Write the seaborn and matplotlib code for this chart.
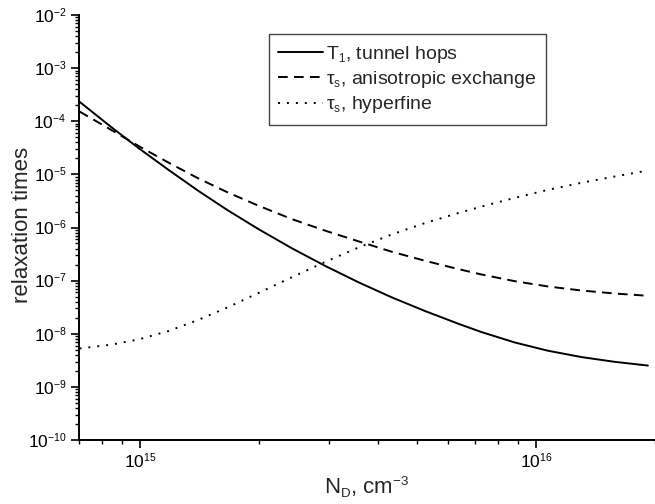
import numpy as np
import pandas as pd
import matplotlib
matplotlib.use("Agg")
import matplotlib.pyplot as plt
import matplotlib.ticker as mticker
import seaborn as sns

try:
    import matplotlib._mathtext as _mt
    _mt.SHRINK_FACTOR = 0.6
except Exception:
    pass

# ---- data ----
nd = [7.02e14, 8.47e14, 9.88e14, 1.177e15, 1.40e15, 1.667e15, 1.995e15, 2.42e15,
      2.94e15, 3.566e15, 4.325e15, 5.25e15, 6.37e15, 7.29e15, 8.85e15, 1.074e16,
      1.303e16, 1.582e16, 1.919e16]
t1_tunnel = [2.33e-4, 7.63e-5, 3.16e-5, 1.225e-5, 4.93e-6, 2.09e-6, 9.21e-7, 4.04e-7,
             1.876e-7, 9.26e-8, 4.83e-8, 2.67e-8, 1.54e-8, 1.074e-8, 6.84e-9, 4.78e-9,
             3.64e-9, 2.96e-9, 2.52e-9]
ts_aniso = [1.526e-4, 6.78e-5, 3.45e-5, 1.673e-5, 8.44e-6, 4.54e-6, 2.55e-6, 1.433e-6,
            8.67e-7, 5.47e-7, 3.49e-7, 2.36e-7, 1.648e-7, 1.304e-7, 9.75e-8, 7.75e-8,
            6.52e-8, 5.72e-8, 5.18e-8]
ts_hyperfine = [5.28e-9, 6.25e-9, 7.79e-9, 1.122e-8, 1.815e-8, 3.17e-8, 5.90e-8, 1.165e-7,
                2.27e-7, 4.22e-7, 7.42e-7, 1.215e-6, 1.874e-6, 2.48e-6, 3.62e-6, 5.12e-6,
                6.94e-6, 9.12e-6, 1.182e-5]

labels = [r"T$_1$, tunnel hops",
          r"$\tau_s$, anisotropic exchange",
          r"$\tau_s$, hyperfine"]

sns.set_theme(style="ticks")
plt.rcParams["font.family"] = ["Liberation Sans", "DejaVu Sans"]
plt.rcParams["mathtext.fontset"] = "custom"
plt.rcParams["mathtext.rm"] = "Liberation Sans"
plt.rcParams["mathtext.it"] = "Liberation Sans:italic"
plt.rcParams["mathtext.default"] = "regular"

fig = plt.figure(figsize=(6.55, 5.04), dpi=100)
ax = fig.add_axes([79 / 655, 64 / 504, 576 / 655, 425 / 504])

df = pd.DataFrame({"N": nd, "t1": t1_tunnel, "aniso": ts_aniso, "hf": ts_hyperfine})

lw = 1.4
sns.lineplot(data=df, x="N", y="t1", ax=ax, color="black", lw=lw, label=labels[0])
sns.lineplot(data=df, x="N", y="aniso", ax=ax, color="black", lw=lw,
             linestyle=(0, (5.0, 3.2)), label=labels[1])
sns.lineplot(data=df, x="N", y="hf", ax=ax, color="black", lw=lw,
             linestyle=(0, (1.0, 3.6)), label=labels[2])

ax.set_xscale("log")
ax.set_yscale("log")
ax.set_xlim(7e14, 2e16)
ax.set_ylim(1e-10, 1e-2)

ax.yaxis.set_major_locator(mticker.LogLocator(base=10, numticks=20))
ax.yaxis.set_minor_locator(mticker.LogLocator(base=10, subs=np.arange(2, 10), numticks=20))
ax.yaxis.set_minor_formatter(mticker.NullFormatter())
ax.xaxis.set_major_locator(mticker.LogLocator(base=10, numticks=20))
ax.xaxis.set_minor_locator(mticker.LogLocator(base=10, subs=np.arange(2, 10), numticks=20))
ax.xaxis.set_minor_formatter(mticker.NullFormatter())

for s in ["top", "right"]:
    ax.spines[s].set_visible(False)
for s in ["left", "bottom"]:
    ax.spines[s].set_linewidth(1.4)
    ax.spines[s].set_color("black")

ax.tick_params(which="major", direction="out", length=6, width=1.2, labelsize=12.5,
               colors="black", pad=3)
ax.tick_params(which="minor", direction="out", length=3, width=1.0, colors="black")

ax.set_xlabel(r"N$_D$, cm$^{-3}$", fontsize=16)
ax.set_ylabel("relaxation times", fontsize=16)
ax.xaxis.set_label_coords(0.5, -0.08)
ax.yaxis.set_label_coords(-0.08, 0.506)

leg = ax.legend(loc="upper left", bbox_to_anchor=(0.329, 0.955), borderaxespad=0,
                fontsize=14, frameon=True, fancybox=False, edgecolor="#444444",
                framealpha=1, handlelength=2.3, handletextpad=0.15, labelspacing=0.22,
                borderpad=0.5)
leg.get_frame().set_linewidth(1.0)

fig.savefig("out.png", dpi=100)
